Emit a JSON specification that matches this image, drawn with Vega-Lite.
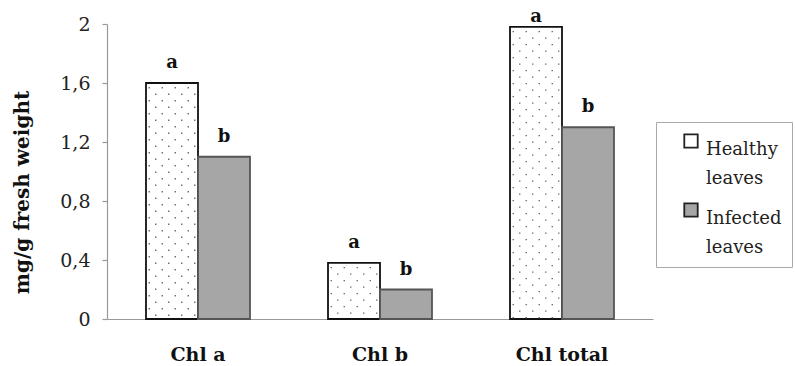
{
  "$schema": "https://vega.github.io/schema/vega-lite/v6.json",
  "width": 546,
  "height": 295,
  "autosize": "none",
  "padding": {"left": 107, "top": 24, "right": 142, "bottom": 47},
  "background": "white",
  "config": {"view": {"stroke": null}, "style": {"guide-label": {"lineHeight": 29}}},
  "data": {"values": [
    {"category": "Chl a", "group": "Healthy leaves", "value": 1.6, "sig": "a"},
    {"category": "Chl a", "group": "Infected leaves", "value": 1.1, "sig": "b"},
    {"category": "Chl b", "group": "Healthy leaves", "value": 0.38, "sig": "a"},
    {"category": "Chl b", "group": "Infected leaves", "value": 0.2, "sig": "b"},
    {"category": "Chl total", "group": "Healthy leaves", "value": 1.98, "sig": "a"},
    {"category": "Chl total", "group": "Infected leaves", "value": 1.3, "sig": "b"}
  ]},
  "encoding": {
    "x": {"field": "category", "type": "nominal", "sort": ["Chl a", "Chl b", "Chl total"],
      "scale": {"paddingInner": 0.4286, "paddingOuter": 0.2143},
      "axis": {"title": null, "labelAngle": 0, "ticks": false, "domainColor": "#999", "domainWidth": 1.2,
        "labelFont": "DejaVu Serif", "labelFontWeight": "bold", "labelFontSize": 19, "labelColor": "#111", "labelPadding": 26}},
    "y": {"field": "value", "type": "quantitative", "scale": {"domain": [0, 2], "nice": false},
      "axis": {"title": "mg/g fresh weight", "values": [0, 0.4, 0.8, 1.2, 1.6, 2], "grid": false,
        "labelExpr": "replace(format(datum.value, '~g'), '.', ',')",
        "domainColor": "#999", "domainWidth": 1.2, "tickColor": "#999", "tickSize": 5, "tickWidth": 1.2,
        "labelFont": "DejaVu Serif", "labelFontSize": 19, "labelColor": "#222", "labelPadding": 12,
        "titleFont": "DejaVu Serif", "titleFontWeight": "bold", "titleFontSize": 20, "titleColor": "#111",
        "titleY": 168, "titleX": -79, "titleAlign": "center", "titleBaseline": "alphabetic"}}
  },
  "layer": [
    {
      "mark": {"type": "bar", "strokeWidth": 1.8},
      "encoding": {
        "xOffset": {"field": "group", "type": "nominal", "sort": ["Healthy leaves", "Infected leaves"]},
        "fill": {"field": "group", "type": "nominal", "sort": ["Healthy leaves", "Infected leaves"],
          "scale": {"range": ["#ffffff", "#a6a6a6"]},
          "legend": {"title": null, "orient": "none", "legendX": 549, "legendY": 98,
            "strokeColor": "#aaa", "padding": 10, "symbolType": "square", "symbolSize": 180,
            "symbolStrokeWidth": 1.8, "symbolStrokeColor": "#222", "labelFont": "DejaVu Serif", "labelFontSize": 18, "labelColor": "#222",
            "labelExpr": "split(datum.label, ' ')", "labelBaseline": "top", "labelOffset": 6,
            "rowPadding": 11, "symbolOffset": 16}},
        "stroke": {"field": "group", "type": "nominal", "sort": ["Healthy leaves", "Infected leaves"],
          "scale": {"range": ["#111111", "#555555"]}, "legend": null}
      }
    },
    {"transform": [{"filter": "datum.group === 'Healthy leaves'"}],
     "mark": {"type": "rule", "xOffset": -48.75, "color": "#6a6a6a", "strokeWidth": 1.4, "strokeDash": [1.4, 11.6], "strokeDashOffset": -4},
     "encoding": {"y2": {"datum": 0}}},
    {"transform": [{"filter": "datum.group === 'Healthy leaves'"}],
     "mark": {"type": "rule", "xOffset": -42.25, "color": "#6a6a6a", "strokeWidth": 1.4, "strokeDash": [1.4, 11.6], "strokeDashOffset": -10.5},
     "encoding": {"y2": {"datum": 0}}},
    {"transform": [{"filter": "datum.group === 'Healthy leaves'"}],
     "mark": {"type": "rule", "xOffset": -35.75, "color": "#6a6a6a", "strokeWidth": 1.4, "strokeDash": [1.4, 11.6], "strokeDashOffset": -4},
     "encoding": {"y2": {"datum": 0}}},
    {"transform": [{"filter": "datum.group === 'Healthy leaves'"}],
     "mark": {"type": "rule", "xOffset": -29.25, "color": "#6a6a6a", "strokeWidth": 1.4, "strokeDash": [1.4, 11.6], "strokeDashOffset": -10.5},
     "encoding": {"y2": {"datum": 0}}},
    {"transform": [{"filter": "datum.group === 'Healthy leaves'"}],
     "mark": {"type": "rule", "xOffset": -22.75, "color": "#6a6a6a", "strokeWidth": 1.4, "strokeDash": [1.4, 11.6], "strokeDashOffset": -4},
     "encoding": {"y2": {"datum": 0}}},
    {"transform": [{"filter": "datum.group === 'Healthy leaves'"}],
     "mark": {"type": "rule", "xOffset": -16.25, "color": "#6a6a6a", "strokeWidth": 1.4, "strokeDash": [1.4, 11.6], "strokeDashOffset": -10.5},
     "encoding": {"y2": {"datum": 0}}},
    {"transform": [{"filter": "datum.group === 'Healthy leaves'"}],
     "mark": {"type": "rule", "xOffset": -9.75, "color": "#6a6a6a", "strokeWidth": 1.4, "strokeDash": [1.4, 11.6], "strokeDashOffset": -4},
     "encoding": {"y2": {"datum": 0}}},
    {"transform": [{"filter": "datum.group === 'Healthy leaves'"}],
     "mark": {"type": "rule", "xOffset": -3.25, "color": "#6a6a6a", "strokeWidth": 1.4, "strokeDash": [1.4, 11.6], "strokeDashOffset": -10.5},
     "encoding": {"y2": {"datum": 0}}},
    {
      "transform": [{"filter": "datum.value < 1.9"}],
      "mark": {"type": "text", "dy": -15, "baseline": "alphabetic", "font": "DejaVu Serif", "fontWeight": "bold", "fontSize": 18, "color": "#111"},
      "encoding": {"xOffset": {"field": "group", "type": "nominal", "sort": ["Healthy leaves", "Infected leaves"]}, "text": {"field": "sig"}}
    },
    {
      "transform": [{"filter": "datum.value >= 1.9"}],
      "mark": {"type": "text", "dy": -5, "baseline": "alphabetic", "font": "DejaVu Serif", "fontWeight": "bold", "fontSize": 18, "color": "#111"},
      "encoding": {"xOffset": {"field": "group", "type": "nominal", "sort": ["Healthy leaves", "Infected leaves"]}, "text": {"field": "sig"}}
    }
  ]
}
